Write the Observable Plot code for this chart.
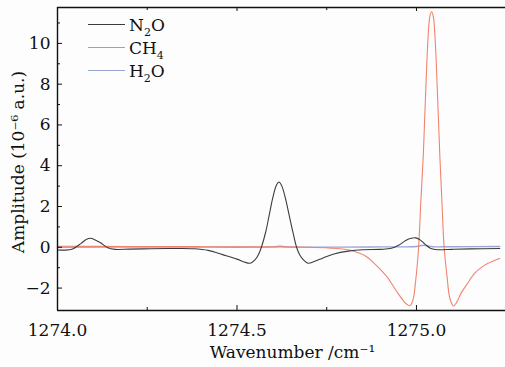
<!DOCTYPE html>
<html><head><meta charset="utf-8">
<script src="https://cdn.jsdelivr.net/npm/d3@7"></script>
<script src="https://cdn.jsdelivr.net/npm/@observablehq/plot@0.6"></script>
<style>
html,body{margin:0;padding:0;background:#fdfdfd;}
#wrap{position:relative;width:505px;height:367px;overflow:hidden;font-family:"DejaVu Serif",serif;}
.legend{position:absolute;left:88px;top:13px;font-size:17px;color:#111;}
.legend .item{display:flex;align-items:center;height:23px;white-space:nowrap;}
.legend .sw{width:37px;height:0;border-top:1px solid;margin-right:4px;}
.legend sub{font-size:11px;vertical-align:-5px;line-height:0;}
</style></head><body><div id="wrap"></div>
<script>
// ---- data ----
const seriesNames = ["N2O", "CH4", "H2O"];
const seriesColors = ["#3c3c3c", "#f2836f", "#9ba6d6"];

const n2oX = [1274.000,1274.020,1274.040,1274.065,1274.080,1274.092,1274.105,1274.120,1274.140,1274.160,1274.200,1274.260,1274.320,1274.380,1274.420,1274.460,1274.500,1274.520,1274.537,1274.550,1274.560,1274.568,1274.580,1274.590,1274.600,1274.610,1274.617,1274.625,1274.635,1274.645,1274.655,1274.666,1274.675,1274.685,1274.698,1274.715,1274.740,1274.770,1274.810,1274.850,1274.900,1274.930,1274.950,1274.970,1274.985,1274.998,1275.012,1275.025,1275.040,1275.060,1275.100,1275.150,1275.232];
const n2oY = [-0.13,-0.14,-0.10,0.18,0.38,0.44,0.36,0.22,-0.02,-0.10,-0.09,-0.07,-0.06,-0.07,-0.15,-0.36,-0.58,-0.72,-0.78,-0.62,-0.35,0.0,0.75,1.6,2.45,3.05,3.2,3.0,2.4,1.6,0.8,0.0,-0.38,-0.62,-0.78,-0.70,-0.52,-0.33,-0.19,-0.12,-0.10,-0.05,0.10,0.33,0.44,0.46,0.34,0.13,-0.06,-0.12,-0.10,-0.08,-0.06];

const ch4X = [1274.000,1274.200,1274.400,1274.600,1274.700,1274.760,1274.800,1274.830,1274.860,1274.880,1274.900,1274.920,1274.935,1274.950,1274.965,1274.975,1274.982,1274.990,1274.998,1275.006,1275.012,1275.019,1275.025,1275.032,1275.037,1275.042,1275.047,1275.052,1275.059,1275.065,1275.071,1275.077,1275.085,1275.093,1275.103,1275.112,1275.124,1275.143,1275.161,1275.180,1275.198,1275.232];
const ch4Y = [0.05,0.04,0.03,0.02,0.0,-0.04,-0.10,-0.22,-0.45,-0.75,-1.10,-1.50,-1.90,-2.30,-2.65,-2.82,-2.86,-2.60,-1.60,0.0,2.2,4.5,7.3,10.2,11.3,11.55,11.3,10.2,7.3,4.5,2.2,0.0,-1.4,-2.5,-2.88,-2.70,-2.26,-1.75,-1.29,-1.00,-0.80,-0.55];

const h2oX = [1274.000,1274.300,1274.600,1274.620,1274.640,1274.900,1275.000,1275.020,1275.045,1275.100,1275.232];
const h2oY = [0.00,0.01,0.02,0.05,0.02,0.02,0.04,0.10,0.03,0.03,0.04];

const xMajor = [1274.0, 1274.5, 1275.0];
const xMinor = [1274.25, 1274.75];
const yMajor = [-2, 0, 2, 4, 6, 8, 10];
const yMinor = [-1, 1, 3, 5, 7, 9, 11];
const xDomain = [1274.0, 1275.248];
const yDomain = [-3.1, 11.76];
const xLabel = "Wavenumber /cm\u207B\u00B9";
const yLabel = "Amplitude (10\u207B\u2076 a.u.)";

// ---- build ----
const W = 505, H = 367, mL = 57, mT = 7, mB = 57, mR = 0;
const plotW = W - mL - mR, plotH = H - mT - mB;
const mk = (xs, ys, name) => xs.map((x, i) => ({x, y: ys[i], name}));
const lines = [mk(n2oX, n2oY, "N2O"), mk(ch4X, ch4Y, "CH4"), mk(h2oX, h2oY, "H2O")];
const ink = "#111";

const chart = Plot.plot({
  width: W, height: H,
  marginLeft: mL, marginRight: mR, marginTop: mT, marginBottom: mB,
  style: {fontFamily: "DejaVu Serif, serif", fontSize: "17px", background: "transparent", color: ink},
  x: {domain: xDomain},
  y: {domain: yDomain},
  marks: [
    Plot.line(lines[2], {x: "x", y: "y", stroke: seriesColors[2], strokeWidth: 1.4, curve: "catmull-rom"}),
    Plot.line(lines[1], {x: "x", y: "y", stroke: seriesColors[1], strokeWidth: 1.1, curve: "catmull-rom"}),
    Plot.line(lines[0], {x: "x", y: "y", stroke: seriesColors[0], strokeWidth: 1.1, curve: "catmull-rom"}),
    // frame lines (left, bottom, top)
    Plot.ruleX([xDomain[0]], {stroke: ink, strokeWidth: 1.4}),
    Plot.ruleY([yDomain[0], yDomain[1]], {stroke: ink, strokeWidth: 1.4}),
    // inward ticks
    Plot.tickX(xMajor, {x: d => d, insetTop: plotH - 5, stroke: ink}),
    Plot.tickX(xMinor, {x: d => d, insetTop: plotH - 3, stroke: ink}),
    Plot.tickX(xMajor, {x: d => d, insetBottom: plotH - 4, stroke: ink}),
    Plot.tickX(xMinor, {x: d => d, insetBottom: plotH - 3, stroke: ink}),
    Plot.tickY(yMajor, {y: d => d, insetRight: plotW - 5, stroke: ink}),
    Plot.tickY(yMinor, {y: d => d, insetRight: plotW - 3, stroke: ink}),
    // tick labels
    Plot.axisX(xMajor, {tickSize: 0, tickPadding: 13, tickFormat: d => d.toFixed(1), label: null, fontSize: 17}),
    Plot.axisY(yMajor, {tickSize: 0, tickPadding: 7, label: null, fontSize: 17}),
    // axis titles
    Plot.text([xLabel], {text: d => d, frameAnchor: "bottom", textAnchor: "middle", lineAnchor: "middle", dx: 11, dy: 42, fontSize: 17, fill: ink}),
    Plot.text([yLabel], {text: d => d, frameAnchor: "left", textAnchor: "middle", lineAnchor: "middle", rotate: -90, dx: -39, dy: 3, fontSize: 17, fill: ink})
  ]
});

const wrap = document.getElementById("wrap");
wrap.appendChild(chart);

// legend (HTML overlay)
const legend = document.createElement("div");
legend.className = "legend";
const labelHTML = {N2O: "N<sub>2</sub>O", CH4: "CH<sub>4</sub>", H2O: "H<sub>2</sub>O"};
seriesNames.forEach((n, i) => {
  const it = document.createElement("div");
  it.className = "item";
  const sw = document.createElement("span");
  sw.className = "sw";
  sw.style.borderTopColor = seriesColors[i];
  sw.style.borderTopWidth = (i === 2 ? 1.5 : 1.2) + "px";
  const t = document.createElement("span");
  t.innerHTML = labelHTML[n];
  it.appendChild(sw); it.appendChild(t);
  legend.appendChild(it);
});
wrap.appendChild(legend);
</script></body></html>
